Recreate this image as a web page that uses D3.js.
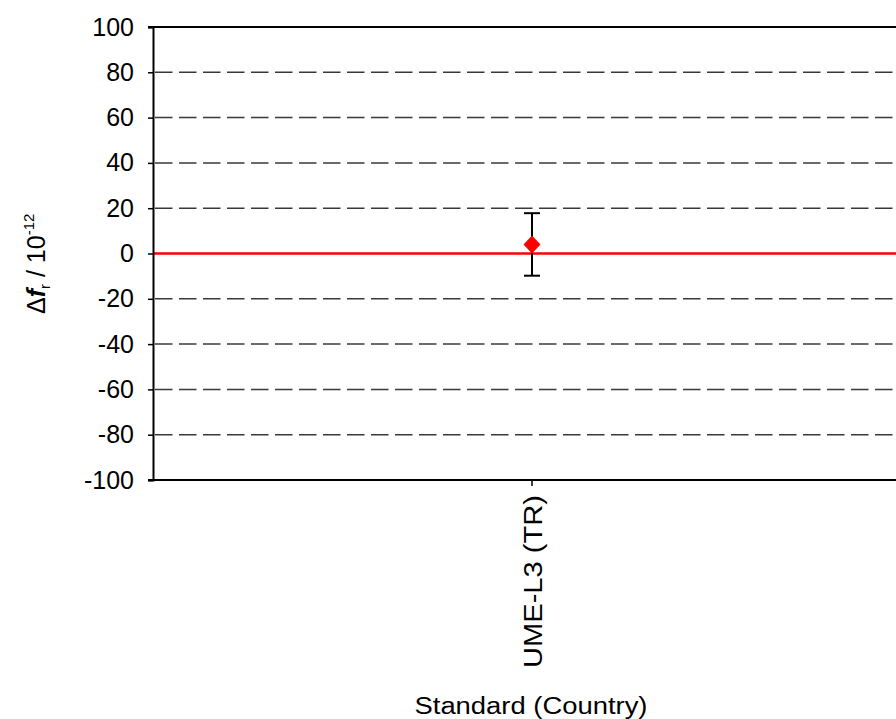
<!DOCTYPE html>
<html>
<head>
<meta charset="utf-8">
<script src="https://cdn.jsdelivr.net/npm/d3@7"></script>
<style>
  html, body { margin: 0; padding: 0; background: #fff; }
  svg { display: block; font-family: "Liberation Sans", Arial, sans-serif; }
</style>
</head>
<body>
<svg id="chart" width="896" height="719"></svg>
<script>
// ---- data ----
const categories = ["UME-L3 (TR)"];
const values = [4];
const uncertainties = [13.8];
const yTicks = [100, 80, 60, 40, 20, 0, -20, -40, -60, -80, -100];
const xTitle = "Standard (Country)";

// ---- layout ----
const svg = d3.select("#chart");
const mLeft = 153, mTop = 27, mBottom = 480, mRight = 911;

const x = d3.scaleBand().domain(categories).range([mLeft, mRight]);
const y = d3.scaleLinear().domain([-100, 100]).range([mBottom, mTop]);

// dashed grid lines
svg.append("g")
  .selectAll("line")
  .data(yTicks.filter(d => d !== 0 && d !== 100 && d !== -100))
  .join("line")
  .attr("x1", mLeft + 2).attr("x2", 896)
  .attr("y1", d => y(d)).attr("y2", d => y(d))
  .attr("stroke", "#3a3a3a")
  .attr("stroke-width", 1.5)
  .attr("stroke-dasharray", "17.5,6.5");

// zero reference line (red)
svg.append("line")
  .attr("x1", mLeft).attr("x2", 896)
  .attr("y1", y(0)).attr("y2", y(0))
  .attr("stroke", "#ff0000")
  .attr("stroke-width", 2.5);

// y axis
const yAxis = d3.axisLeft(y).tickValues(yTicks).tickSize(5).tickPadding(14).tickFormat(d => String(d));
const gy = svg.append("g").attr("transform", `translate(${mLeft},0)`).call(yAxis);
gy.select(".domain").attr("stroke", "#000").attr("stroke-width", 2);
gy.selectAll(".tick line").attr("stroke", "#000").attr("stroke-width", 1.5);
gy.selectAll(".tick text")
  .attr("fill", "#000")
  .style("font-size", "25px")
  .style("font-family", "'Liberation Sans', Arial, sans-serif");

// top border line
svg.append("line")
  .attr("x1", mLeft - 5).attr("x2", 896)
  .attr("y1", mTop).attr("y2", mTop)
  .attr("stroke", "#000").attr("stroke-width", 2);

// x axis (bottom)
const xAxis = d3.axisBottom(x).tickSize(6).tickFormat("");
const gx = svg.append("g").attr("transform", `translate(0,${mBottom})`).call(xAxis);
gx.select(".domain").attr("stroke", "#000").attr("stroke-width", 2)
  .attr("d", `M${mLeft - 5},0H896`);
gx.selectAll(".tick line").attr("stroke", "#000").attr("stroke-width", 1.5);

// category labels (rotated)
svg.append("g")
  .selectAll("text")
  .data(categories)
  .join("text")
  .attr("transform", d => `translate(${x(d) + x.bandwidth() / 2 + 10},668) rotate(-90)`)
  .attr("text-anchor", "start")
  .attr("textLength", 173)
  .attr("lengthAdjust", "spacingAndGlyphs")
  .style("font-size", "25px")
  .attr("fill", "#000")
  .text(d => d);

// error bars
const cx = d => x(d) + x.bandwidth() / 2;
const eb = svg.append("g");
categories.forEach((c, i) => {
  const v = values[i], u = uncertainties[i];
  eb.append("line")
    .attr("x1", cx(c)).attr("x2", cx(c))
    .attr("y1", y(v + u)).attr("y2", y(v - u))
    .attr("stroke", "#000").attr("stroke-width", 2);
  [v + u, v - u].forEach(e => {
    eb.append("line")
      .attr("x1", cx(c) - 8).attr("x2", cx(c) + 8)
      .attr("y1", y(e)).attr("y2", y(e))
      .attr("stroke", "#000").attr("stroke-width", 2);
  });
});

// diamond markers
svg.append("g")
  .selectAll("path")
  .data(categories)
  .join("path")
  .attr("transform", (d, i) => `translate(${cx(d)},${y(values[i])})`)
  .attr("d", "M0,-9L8.5,0L0,9L-8.5,0Z")
  .attr("fill", "#ff0000");

// x title
svg.append("text")
  .attr("x", 531).attr("y", 714)
  .attr("text-anchor", "middle")
  .attr("textLength", 233)
  .attr("lengthAdjust", "spacingAndGlyphs")
  .style("font-size", "23px")
  .attr("fill", "#000")
  .text(xTitle);

// y title: Δf_r / 10^-12
const yt = svg.append("text")
  .attr("transform", "translate(45,314) rotate(-90)")
  .attr("text-anchor", "start")
  .style("font-size", "25px")
  .attr("fill", "#000");
yt.append("tspan").text("Δ");
yt.append("tspan").style("font-style", "italic").style("font-weight", "bold").text("f");
yt.append("tspan").attr("dy", 5).style("font-size", "15px").text("r");
yt.append("tspan").attr("dy", -5).text(" / 10");
yt.append("tspan").attr("dy", -11).style("font-size", "15px").text("-12");
</script>
</body>
</html>
